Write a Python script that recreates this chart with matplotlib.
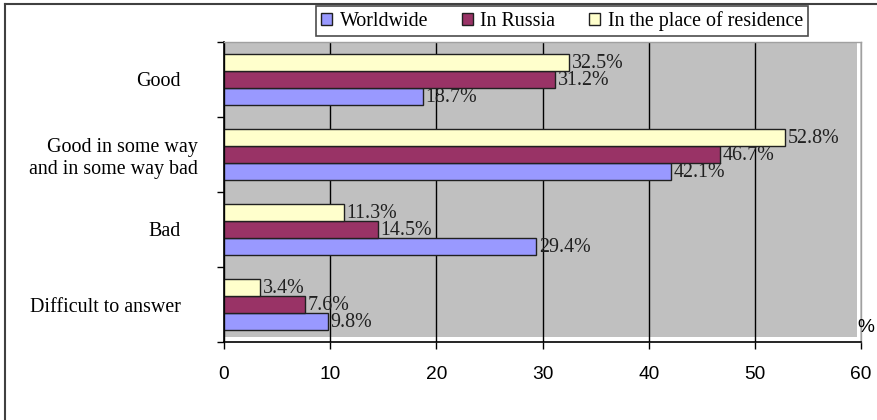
import matplotlib
matplotlib.use("Agg")
import matplotlib.pyplot as plt
import matplotlib.transforms as mtransforms
from matplotlib.patches import Patch, Rectangle
import numpy as np

categories = ["Good", "Good in some way\nand in some way bad", "Bad", "Difficult to answer"]
series_names = ["Worldwide", "In Russia", "In the place of residence"]
worldwide = [18.7, 42.1, 29.4, 9.8]
in_russia = [31.2, 46.7, 14.5, 7.6]
residence = [32.5, 52.8, 11.3, 3.4]
x_ticks = [0, 10, 20, 30, 40, 50, 60]

colors = ["#9999FF", "#993366", "#FFFFCC"]
SERIF = ["Liberation Serif", "DejaVu Serif"]
SANS = ["Liberation Sans", "DejaVu Sans"]

fig = plt.figure(figsize=(8.77, 4.20), dpi=100)
ax = fig.add_axes([224 / 877, 1 - 342 / 420, 637 / 877, 300 / 420])
ax.set_facecolor("white")

# gray plot area (slightly inset like the original)
ax.add_patch(Rectangle((0, 5 / 300), 633 / 637, 1 - 5 / 300, transform=ax.transAxes,
                       facecolor="#C0C0C0", edgecolor="none", zorder=0.1))

y = np.arange(len(categories))
h = 0.227
series = [worldwide, in_russia, residence]
offsets = [h, 0, -h]
for vals, off, col, name in zip(series, offsets, colors, series_names):
    bars = ax.barh(y + off, vals, height=h, color=col, edgecolor="#202020",
                   linewidth=1.0, zorder=2, label=name)
    for b, v in zip(bars, vals):
        ax.annotate(f"{v:.1f}%", (b.get_width(), b.get_y() + b.get_height() / 2),
                    xytext=(2, -1), textcoords="offset points", ha="left", va="center",
                    fontsize=14.4, family=SERIF, color="#202020", zorder=3)

ax.set_xlim(0, 60)
ax.set_ylim(len(categories) - 0.5, -0.5)
ax.set_xticks(x_ticks)
ax.set_xticklabels([str(t) for t in x_ticks], family=SANS, fontsize=13.8)
ax.set_yticks(y)
ax.set_yticklabels(categories, family=SERIF, fontsize=14.4, multialignment="right")
ax.set_yticks(np.arange(-0.5, len(categories)), minor=True)
ax.tick_params(axis="y", which="major", length=0, pad=31)
ax.tick_params(axis="y", which="minor", length=5, width=1, direction="out", color="black")
ax.tick_params(axis="x", which="major", length=5, width=1, direction="out", pad=12, color="black")

# shift the two-line label right like the original
lab = ax.get_yticklabels()[1]
lab.set_transform(lab.get_transform() + mtransforms.ScaledTranslation(17 / 100, 0, fig.dpi_scale_trans))

ax.grid(axis="x", color="black", linewidth=1.0, zorder=0.5)
ax.grid(axis="y", visible=False)
ax.set_axisbelow(True)

for s in ["left", "bottom"]:
    ax.spines[s].set_color("black")
    ax.spines[s].set_linewidth(1.2)
for s in ["top", "right"]:
    ax.spines[s].set_color("#A0A0A0")
    ax.spines[s].set_linewidth(1.0)

# legend
handles = [Patch(facecolor=c, edgecolor="#202020", linewidth=1.0) for c in colors]
leg = fig.legend(handles, series_names, loc="upper left",
                 bbox_to_anchor=(316 / 877, 1 - 6 / 420), ncol=3,
                 prop={"family": SERIF, "size": 14.4}, frameon=True, fancybox=False,
                 handlelength=0.55, handleheight=0.55, handletextpad=0.4,
                 columnspacing=1.65, borderpad=0.25, borderaxespad=0)
leg.get_frame().set_edgecolor("#202020")
leg.get_frame().set_linewidth(1.2)

# "%" unit label
fig.text(857 / 877, 1 - 327 / 420, "%", family=SANS, fontsize=13.8, ha="left", va="center")

# figure border (left and top)
fig.add_artist(plt.Line2D([5 / 877, 5 / 877], [0, 1 - 4 / 420], transform=fig.transFigure,
                          color="#404040", linewidth=1.5))
fig.add_artist(plt.Line2D([5 / 877, 1], [1 - 4 / 420, 1 - 4 / 420], transform=fig.transFigure,
                          color="#404040", linewidth=1.5))

fig.savefig("out.png", dpi=100, facecolor="white")
